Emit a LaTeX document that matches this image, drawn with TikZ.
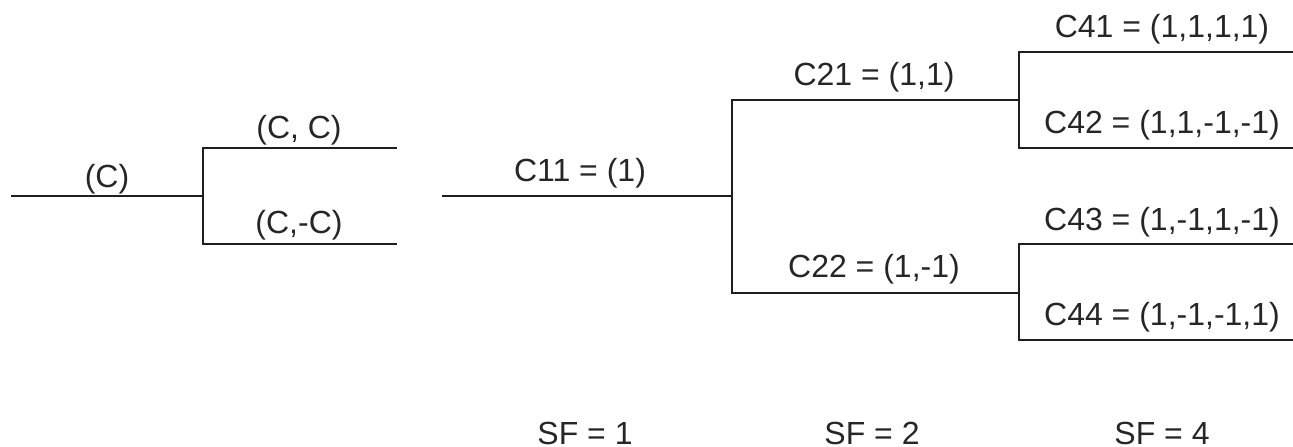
\documentclass[tikz,border=0pt]{standalone}
\usepackage{fontspec}
\setmainfont{Liberation Sans}
\begin{document}
\begin{tikzpicture}[x=1pt,y=-1pt,
  ln/.style={line width=1.6pt,line cap=rect,draw=black!88},
  lbl/.style={font=\fontsize{32}{34}\selectfont,text=black!85,inner sep=0pt,anchor=base}]
\useasboundingbox (0,0) rectangle (1293,447);
% left tree
\coordinate (a0) at (12,196);
\coordinate (a1) at (203,196);
\coordinate (a1t) at (203,148);
\coordinate (a1b) at (203,244);
\coordinate (a2t) at (396,148);
\coordinate (a2b) at (396,244);
\draw[ln] (a0) -- (a1);
\draw[ln] (a1t) -- (a1b);
\draw[ln] (a1t) -- (a2t);
\draw[ln] (a1b) -- (a2b);
\node[lbl] (lc) at (107,187) {(C)};
\node[lbl] (lcc) at (299,138) {(C, C)};
\node[lbl] (lcmc) at (299,233) {(C,-C)};
% right tree
\coordinate (b0) at (443,196);
\coordinate (b1) at (732,196);
\coordinate (b1t) at (732,100);
\coordinate (b1b) at (732,293);
\coordinate (b2t) at (1019,100);
\coordinate (b2b) at (1019,293);
\coordinate (c1t) at (1019,52);
\coordinate (c1b) at (1019,148);
\coordinate (c2t) at (1019,244);
\coordinate (c2b) at (1019,340);
\coordinate (d1) at (1294,52);
\coordinate (d2) at (1294,148);
\coordinate (d3) at (1294,244);
\coordinate (d4) at (1294,340);
\draw[ln] (b0) -- (b1);
\draw[ln] (b1t) -- (b1b);
\draw[ln] (b1t) -- (b2t);
\draw[ln] (b1b) -- (b2b);
\draw[ln] (c1t) -- (c1b);
\draw[ln] (c2t) -- (c2b);
\draw[ln] (c1t) -- (d1);
\draw[ln] (c1b) -- (d2);
\draw[ln] (c2t) -- (d3);
\draw[ln] (c2b) -- (d4);
\node[lbl] (c11) at (580,181) {C11 = (1)};
\node[lbl] (c21) at (874,85) {C21 = (1,1)};
\node[lbl] (c22) at (874,277) {C22 = (1,-1)};
\node[lbl] (c41) at (1162,37) {C41 = (1,1,1,1)};
\node[lbl] (c42) at (1162,133) {C42 = (1,1,-1,-1)};
\node[lbl] (c43) at (1162,230) {C43 = (1,-1,1,-1)};
\node[lbl] (c44) at (1162,325) {C44 = (1,-1,-1,1)};
\node[lbl] (sf1) at (585,444) {SF = 1};
\node[lbl] (sf2) at (872,444) {SF = 2};
\node[lbl] (sf4) at (1162,444) {SF = 4};
\end{tikzpicture}
\end{document}
